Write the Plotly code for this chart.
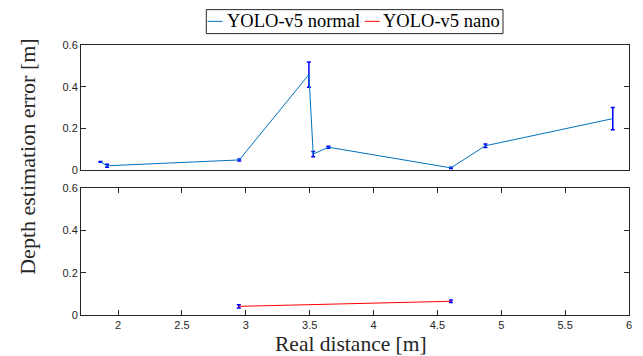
import plotly.graph_objects as go
from plotly.subplots import make_subplots

# ---- data ----
normal_x = [1.862, 1.914, 2.949, 3.494, 3.528, 3.647, 4.606, 4.876, 5.873]
normal_y = [0.040, 0.021, 0.049, 0.458, 0.077, 0.110, 0.011, 0.117, 0.247]
normal_err = [0.002, 0.007, 0.005, 0.061, 0.013, 0.005, 0.003, 0.008, 0.053]

nano_x = [2.945, 4.606]
nano_y = [0.041, 0.065]
nano_err = [0.008, 0.006]

series_names = ["YOLO-v5 normal", "YOLO-v5 nano"]
series_colors = ["#0072BD", "#FF0000"]
x_ticks = [2, 2.5, 3, 3.5, 4, 4.5, 5, 5.5, 6]
y_ticks = [0, 0.2, 0.4, 0.6]

# page body has an 8px margin: work in reference pixels, shift by OFF
OFF = 8
W, H = 643 - OFF, 356 - OFF
L, R, T, B = 80.7 - OFF, 11.3, 44.7 - OFF, 41.0
pw, ph = W - L - R, H - T - B


def px(xp):
    return (xp - OFF - L) / pw


def py(yp):
    return (H - B - (yp - OFF)) / ph


fig = make_subplots(rows=2, cols=1, shared_xaxes=False)

err_style = dict(type="data", color="#0000FF", thickness=1.5, width=2)

fig.add_trace(go.Scatter(x=normal_x, y=normal_y, mode="lines",
                         line=dict(color=series_colors[0], width=1),
                         error_y=dict(array=normal_err, **err_style),
                         name=series_names[0], showlegend=False), row=1, col=1)
fig.add_trace(go.Scatter(x=nano_x, y=nano_y, mode="lines",
                         line=dict(color=series_colors[1], width=1),
                         error_y=dict(array=nano_err, **err_style),
                         name=series_names[1], showlegend=False), row=2, col=1)

axis_common = dict(showline=True, linecolor="#262626", linewidth=1, mirror="ticks",
                   ticks="inside", ticklen=5, tickcolor="#262626", showgrid=False,
                   zeroline=False,
                   tickfont=dict(family="Liberation Sans, Arial", size=11, color="#262626"))

fig.update_xaxes(range=[1.71, 6], tickvals=x_ticks, **axis_common)
fig.update_xaxes(showticklabels=False, ticks="", row=1, col=1)
fig.update_yaxes(range=[0, 0.6], tickvals=y_ticks, ticktext=["0", "0.2", "0.4", "0.6"],
                 **axis_common)

top_lo = py(170)
bot_hi = py(188.3)
fig.update_layout(
    xaxis=dict(domain=[0, 1]), xaxis2=dict(domain=[0, 1]),
    yaxis=dict(domain=[top_lo, 1]), yaxis2=dict(domain=[0, bot_hi]),
)

serif = "Liberation Serif, Times New Roman, serif"
annotations = [
    dict(text="Depth estimation error [m]", xref="paper", yref="paper",
         x=px(27), y=py(157), textangle=-90, showarrow=False,
         xanchor="center", yanchor="middle",
         font=dict(family=serif, size=22, color="#262626")),
    dict(text="Real distance [m]", xref="paper", yref="paper",
         x=px(352), y=py(344), showarrow=False, xanchor="center", yanchor="middle",
         font=dict(family=serif, size=21.5, color="#262626")),
    dict(text=series_names[0], xref="paper", yref="paper",
         x=px(225), y=py(21), showarrow=False, xanchor="left", yanchor="middle",
         font=dict(family=serif, size=18.5, color="black")),
    dict(text=series_names[1], xref="paper", yref="paper",
         x=px(382), y=py(21), showarrow=False, xanchor="left", yanchor="middle",
         font=dict(family=serif, size=18.5, color="black")),
]

shapes = [
    dict(type="rect", xref="paper", yref="paper", x0=px(206.7), x1=px(505),
         y0=py(33.3), y1=py(9.3), line=dict(color="#262626", width=1), fillcolor="white"),
    dict(type="line", xref="paper", yref="paper", x0=px(208), x1=px(223),
         y0=py(21), y1=py(21), line=dict(color=series_colors[0], width=1)),
    dict(type="line", xref="paper", yref="paper", x0=px(366), x1=px(381),
         y0=py(21), y1=py(21), line=dict(color=series_colors[1], width=1)),
]

fig.update_layout(
    width=W, height=H,
    margin=dict(l=L, r=R, t=T, b=B),
    paper_bgcolor="white", plot_bgcolor="white",
    showlegend=False,
    annotations=annotations, shapes=shapes,
)

fig.write_html("out.html")
